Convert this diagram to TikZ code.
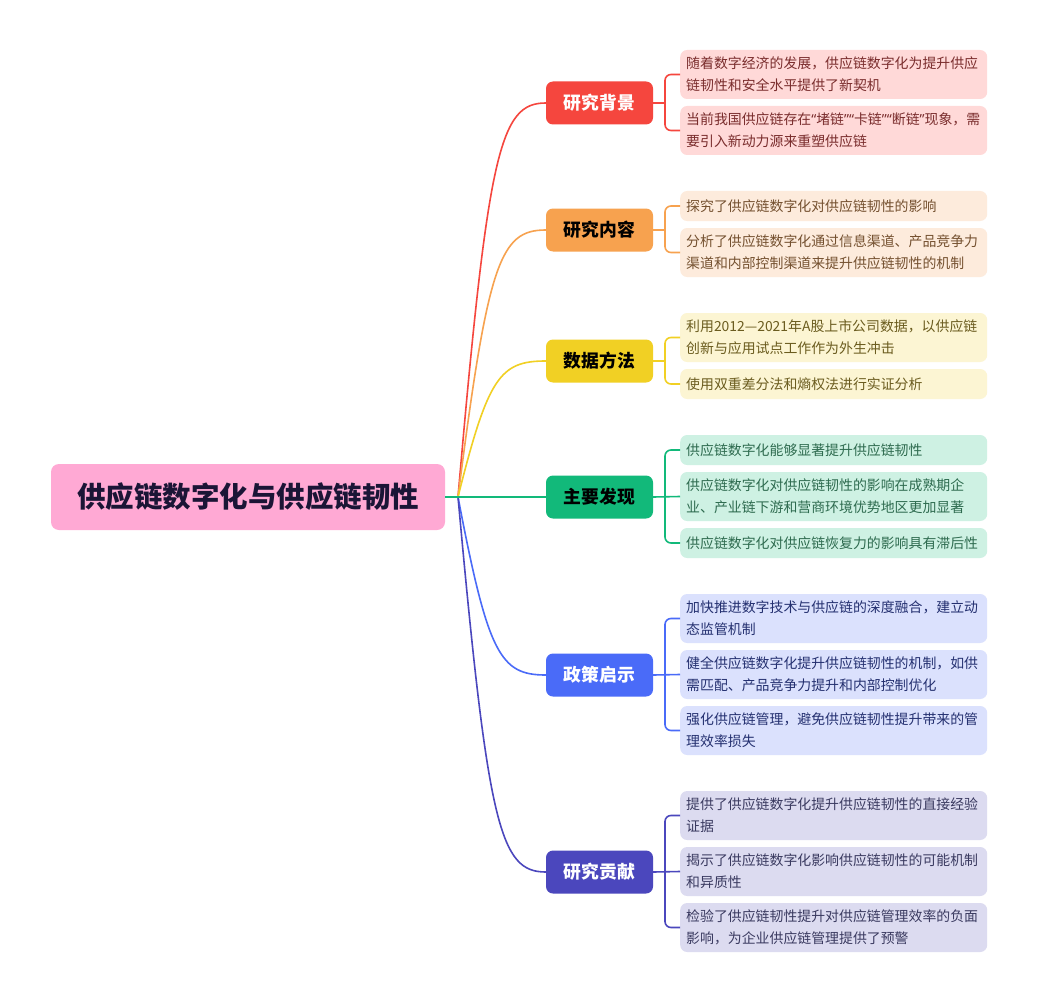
\documentclass[tikz,border=0pt]{standalone}
\usepackage{fontspec}
\newfontfamily\cjk{Noto Sans CJK SC}
\newfontfamily\lat{Noto Sans}
\definecolor{rootc}{HTML}{FFA9D4}
\definecolor{roottext}{HTML}{1B1536}
\definecolor{cA}{HTML}{F5463E}
\definecolor{cB}{HTML}{F7A24F}
\definecolor{cC}{HTML}{F1D024}
\definecolor{cD}{HTML}{12B97A}
\definecolor{cE}{HTML}{4A6BF8}
\definecolor{cF}{HTML}{4B47BD}
\definecolor{fA}{HTML}{FFD9D8}
\definecolor{fB}{HTML}{FDEBDC}
\definecolor{fC}{HTML}{FCF5D3}
\definecolor{fD}{HTML}{CEF1E3}
\definecolor{fE}{HTML}{DBE1FD}
\definecolor{fF}{HTML}{DCDBF0}
\definecolor{tA}{HTML}{7A2D2D}
\definecolor{tB}{HTML}{74502F}
\definecolor{tC}{HTML}{6B5C1F}
\definecolor{tD}{HTML}{2E6B4F}
\definecolor{tE}{HTML}{243070}
\definecolor{tF}{HTML}{3A3A60}
\newcommand{\myLq}{{\lat “}}
\newcommand{\myRq}{{\lat ”}}
\begin{document}
\begin{tikzpicture}[x=1pt,y=-1pt,
  rootnode/.style={rounded corners=8pt, fill=rootc, minimum width=394pt, minimum height=66pt, inner sep=0pt,
    font=\cjk\bfseries\fontsize{28.5}{32}\selectfont, text=roottext},
  brnode/.style={rounded corners=7pt, minimum width=107pt, minimum height=43pt, inner sep=0pt,
    font=\cjk\bfseries\fontsize{17.8}{20}\selectfont},
  leaf/.style={rounded corners=7pt, anchor=west, text width=295pt, inner xsep=6pt, inner ysep=0pt, align=left,
    font=\cjk\fontsize{13.9}{22}\selectfont},
  leafone/.style={leaf, minimum height=30pt},
  leaftwo/.style={leaf, minimum height=49pt},
  conn/.style={line width=1.6pt},
  bracket/.style={conn, rounded corners=6pt}
]
\useasboundingbox (0,0) rectangle (1038,1003);
\fill[white] (0,0) rectangle (1038,1003);

% root
\node[rootnode] (root) at (248,497) {供应链数字化与供应链韧性};
\coordinate (hub) at (458,497);

% branches
\node[brnode, fill=cA, text=white] (b1) at (599.5,103) {研究背景};
\node[brnode, fill=cB, text=black] (b2) at (599.5,230) {研究内容};
\node[brnode, fill=cC, text=black] (b3) at (599.5,361) {数据方法};
\node[brnode, fill=cD, text=black] (b4) at (599.5,497) {主要发现};
\node[brnode, fill=cE, text=white] (b5) at (599.5,675) {政策启示};
\node[brnode, fill=cF, text=white] (b6) at (599.5,872) {研究贡献};

% leaves group 1
\node[leaftwo, fill=fA, text=tA] (l1a) at (680,74.5) {随着数字经济的发展，供应链数字化为提升供应\\链韧性和安全水平提供了新契机};
\node[leaftwo, fill=fA, text=tA] (l1b) at (680,130.5) {当前我国供应链存在\myLq 堵链\myRq\myLq 卡链\myRq\myLq 断链\myRq 现象，需\\要引入新动力源来重塑供应链};
% group 2
\node[leafone, fill=fB, text=tB] (l2a) at (680,206) {探究了供应链数字化对供应链韧性的影响};
\node[leaftwo, fill=fB, text=tB] (l2b) at (680,252.5) {分析了供应链数字化通过信息渠道、产品竞争力\\渠道和内部控制渠道来提升供应链韧性的机制};
% group 3
\node[leaftwo, fill=fC, text=tC] (l3a) at (680,337.5) {利用2012—2021年A股上市公司数据，以供应链\\创新与应用试点工作作为外生冲击};
\node[leafone, fill=fC, text=tC] (l3b) at (680,384) {使用双重差分法和熵权法进行实证分析};
% group 4
\node[leafone, fill=fD, text=tD] (l4a) at (680,450) {供应链数字化能够显著提升供应链韧性};
\node[leaftwo, fill=fD, text=tD] (l4b) at (680,496.5) {供应链数字化对供应链韧性的影响在成熟期企\\业、产业链下游和营商环境优势地区更加显著};
\node[leafone, fill=fD, text=tD] (l4c) at (680,543) {供应链数字化对供应链恢复力的影响具有滞后性};
% group 5
\node[leaftwo, fill=fE, text=tE] (l5a) at (680,618.5) {加快推进数字技术与供应链的深度融合，建立动\\态监管机制};
\node[leaftwo, fill=fE, text=tE] (l5b) at (680,674.5) {健全供应链数字化提升供应链韧性的机制，如供\\需匹配、产品竞争力提升和内部控制优化};
\node[leaftwo, fill=fE, text=tE] (l5c) at (680,730.5) {强化供应链管理，避免供应链韧性提升带来的管\\理效率损失};
% group 6
\node[leaftwo, fill=fF, text=tF] (l6a) at (680,815.5) {提供了供应链数字化提升供应链韧性的直接经验\\证据};
\node[leaftwo, fill=fF, text=tF] (l6b) at (680,871.5) {揭示了供应链数字化影响供应链韧性的可能机制\\和异质性};
\node[leaftwo, fill=fF, text=tF] (l6c) at (680,927.5) {检验了供应链韧性提升对供应链管理效率的负面\\影响，为企业供应链管理提供了预警};

% root to branches
\draw[conn, cA] (root.east) -- (hub) .. controls (488,150) and (500,103) .. (b1.west);
\draw[conn, cB] (root.east) -- (hub) .. controls (488,262) and (500,230) .. (b2.west);
\draw[conn, cC] (root.east) -- (hub) .. controls (488,377) and (500,361) .. (b3.west);
\draw[conn, cE] (root.east) -- (hub) .. controls (488,654) and (500,675) .. (b5.west);
\draw[conn, cF] (root.east) -- (hub) .. controls (488,827) and (500,872) .. (b6.west);
\draw[conn, cD] (root.east) -- (b4.west);

% branch to leaves
\draw[conn, cA] (b1.east) -- ++(12,0);
\draw[bracket, cA] (l1a.west) -- ++(-15,0) |- (l1b.west);
\draw[conn, cB] (b2.east) -- ++(12,0);
\draw[bracket, cB] (l2a.west) -- ++(-15,0) |- (l2b.west);
\draw[conn, cC] (b3.east) -- ++(12,0);
\draw[bracket, cC] (l3a.west) -- ++(-15,0) |- (l3b.west);
\draw[conn, cD] (b4.east) -- (l4b.west);
\draw[bracket, cD] (l4a.west) -- ++(-15,0) |- (l4c.west);
\draw[conn, cE] (b5.east) -- (l5b.west);
\draw[bracket, cE] (l5a.west) -- ++(-15,0) |- (l5c.west);
\draw[conn, cF] (b6.east) -- (l6b.west);
\draw[bracket, cF] (l6a.west) -- ++(-15,0) |- (l6c.west);
\end{tikzpicture}
\end{document}
